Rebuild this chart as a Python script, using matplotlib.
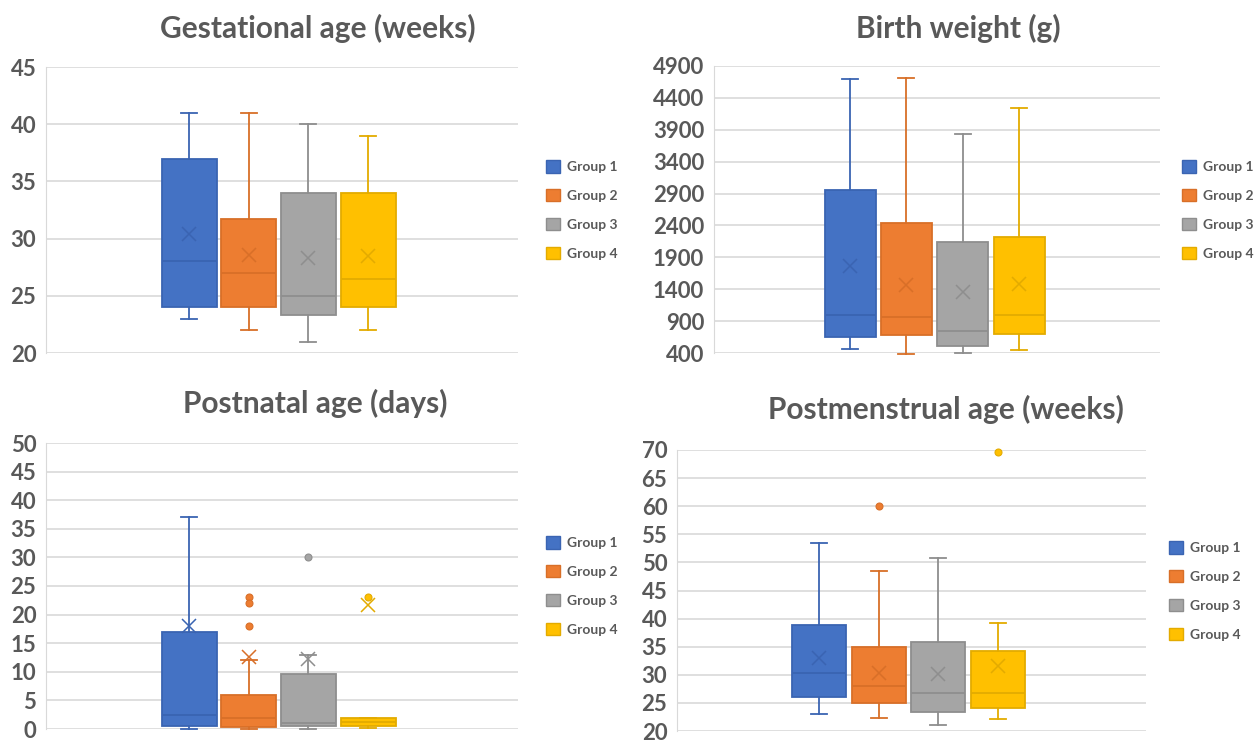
import matplotlib
matplotlib.use("Agg")
import matplotlib.pyplot as plt
from matplotlib.patches import Patch

plt.rcParams['font.family'] = ['Lato', 'DejaVu Sans']

GROUPS = ["Group 1", "Group 2", "Group 3", "Group 4"]
FILL = ["#4472C4", "#ED7D31", "#A5A5A5", "#FFC000"]
EDGE = ["#3A64B2", "#D86F28", "#8E8E8E", "#E3AB00"]
TXT = "#595959"
GRID = "#D9D9D9"

# gestational age (weeks)
ga_lo = [23, 22, 21, 22]
ga_q1 = [24, 24, 23.3, 24]
ga_med = [28, 27, 25, 26.5]
ga_q3 = [37, 31.7, 34, 34]
ga_hi = [41, 41, 40, 39]
ga_mean = [30.4, 28.6, 28.3, 28.5]
ga_out = [[], [], [], []]

# birth weight (g)
bw_lo = [468, 385, 395, 452]
bw_q1 = [645, 677, 515, 698]
bw_med = [1000, 964, 750, 990]
bw_q3 = [2958, 2431, 2133, 2222]
bw_hi = [4690, 4712, 3835, 4237]
bw_mean = [1768, 1465, 1356, 1476]
bw_out = [[], [], [], []]

# postnatal age (days)
pn_lo = [0, 0, 0, 0.2]
pn_q1 = [0.5, 0.4, 0.5, 0.5]
pn_med = [2.5, 2.0, 1.0, 1.2]
pn_q3 = [17, 6, 9.7, 2.0]
pn_hi = [37, 12, 13, 2.0]
pn_mean = [18.0, 12.6, 12.2, 21.7]
pn_out = [[], [23, 22, 18], [30], [23]]

# postmenstrual age (weeks)
pm_lo = [23.1, 22.3, 21.1, 22.1]
pm_q1 = [26.1, 24.9, 23.4, 24.1]
pm_med = [30.4, 28.0, 26.8, 26.8]
pm_q3 = [38.8, 34.9, 35.9, 34.2]
pm_hi = [53.5, 48.4, 50.7, 39.2]
pm_mean = [33.0, 30.4, 30.1, 31.5]
pm_out = [[], [60], [], [69.7]]

W, H = 1255, 744
fig = plt.figure(figsize=(W / 100, H / 100), dpi=100)


def px_axes(left, right, top, bottom):
    return fig.add_axes([left / W, 1 - bottom / H, (right - left) / W, (bottom - top) / H])


def panel(box, c1, sp, bw, ylim, step, lo, q1, med, q3, hi, mean, out,
          title, title_xy, leg_xy):
    ax = px_axes(*box)
    left, right = box[0], box[1]
    stats = [dict(whislo=lo[i], q1=q1[i], med=med[i], q3=q3[i], whishi=hi[i],
                  mean=mean[i], fliers=out[i]) for i in range(4)]
    for i, s in enumerate(stats):
        ax.bxp([s], positions=[i + 1], widths=bw / sp, capwidths=16 / sp,
               patch_artist=True, showmeans=True, showfliers=True,
               boxprops=dict(facecolor=FILL[i], edgecolor=EDGE[i], lw=1.3),
               medianprops=dict(color=EDGE[i], lw=1.3),
               whiskerprops=dict(color=EDGE[i], lw=1.3),
               capprops=dict(color=EDGE[i], lw=1.3),
               meanprops=dict(marker="x", markersize=10, markeredgecolor=EDGE[i],
                              markeredgewidth=1.1),
               flierprops=dict(marker="o", markersize=5, markerfacecolor=FILL[i],
                               markeredgecolor=EDGE[i], markeredgewidth=0.8),
               manage_ticks=False)
    for art in ax.get_children():
        if hasattr(art, "set_clip_on") and art not in ax.spines.values():
            art.set_clip_on(False)
    ax.set_xlim(1 - (c1 - left) / sp, 1 + (right - c1) / sp)
    ax.set_ylim(*ylim)
    ax.set_yticks(range(ylim[0], ylim[1] + 1, step))
    ax.set_xticks([])
    ax.yaxis.grid(True, color=GRID, lw=1.2)
    ax.set_axisbelow(True)
    for k in ["top", "right", "bottom"]:
        ax.spines[k].set_visible(False)
    ax.spines["left"].set_color(GRID)
    ax.tick_params(axis="y", length=0, pad=7, labelsize=16, labelcolor=TXT)
    for t in ax.get_yticklabels():
        t.set_fontweight("bold")
    fig.text(title_xy[0] / W, 1 - title_xy[1] / H, title, ha="center", va="center",
             fontsize=21.5, fontweight="bold", color=TXT)
    handles = [Patch(facecolor=FILL[i], edgecolor=EDGE[i], lw=1, label=GROUPS[i])
               for i in range(4)]
    fig.legend(handles=handles, loc="center left",
               bbox_to_anchor=(leg_xy[0] / W, 1 - leg_xy[1] / H),
               frameon=False, labelcolor=TXT, prop=dict(weight="bold", size=10),
               handlelength=1.0, handleheight=1.0, handletextpad=0.5,
               labelspacing=1.15, borderpad=0, borderaxespad=0)
    return ax


panel((46, 518, 67, 353), 189, 59.7, 55, (20, 45), 5,
      ga_lo, ga_q1, ga_med, ga_q3, ga_hi, ga_mean, ga_out,
      "Gestational age (weeks)", (318, 28), (546, 210))
panel((714, 1160, 66, 353), 850, 56.4, 51, (400, 4900), 500,
      bw_lo, bw_q1, bw_med, bw_q3, bw_hi, bw_mean, bw_out,
      "Birth weight (g)", (958, 28), (1182, 210))
panel((46, 518, 443, 729), 189, 59.7, 55, (0, 50), 5,
      pn_lo, pn_q1, pn_med, pn_q3, pn_hi, pn_mean, pn_out,
      "Postnatal age (days)", (315, 403), (546, 586))
panel((677, 1146, 450, 731), 819, 59.7, 54, (20, 70), 5,
      pm_lo, pm_q1, pm_med, pm_q3, pm_hi, pm_mean, pm_out,
      "Postmenstrual age (weeks)", (946, 409), (1169, 591))

fig.savefig("out.png", dpi=100)
print("wrote out.png")
